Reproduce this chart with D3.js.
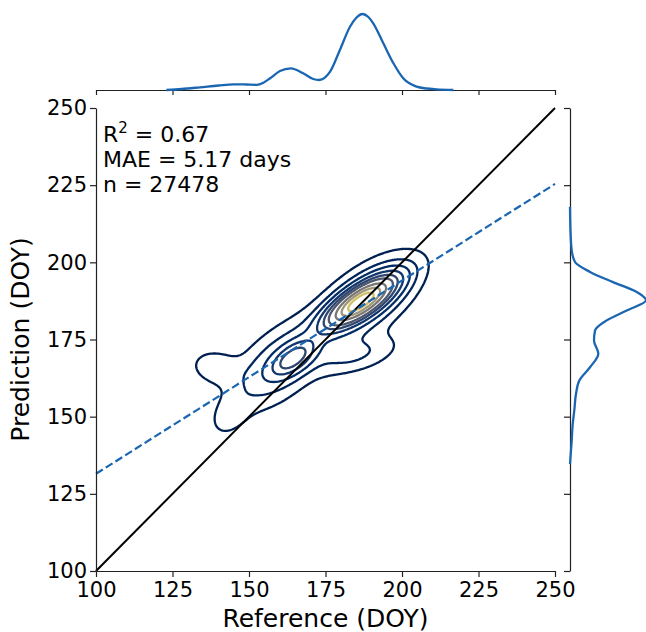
<!DOCTYPE html>
<html>
<head>
<meta charset="utf-8">
<script src="https://cdn.jsdelivr.net/npm/d3@7"></script>
<style>
  body { margin: 0; background: #fff; }
  text { font-family: "DejaVu Sans", sans-serif; fill: #000; }
</style>
</head>
<body>
<div id="chart"></div>
<script>
const FRAME_WIDTH = 646;
const FRAME_HEIGHT = 632;

// main axes box (pixels)
const MAIN = {left: 96, right: 555, top: 108, bottom: 571};

// axis ticks
const TICKS = [100, 125, 150, 175, 200, 225, 250];

// stats text
const STAT_LINES = ["MAE = 5.17 days", "n = 27478"];
const R2_VALUE = "0.67";

// 1:1 line and fitted regression line (endpoints in DOY)
const ONE_TO_ONE = [[100, 100], [250, 250]];
const REG_LINE = [[100, 131.5], [250, 225.4]];

// top marginal density (reference DOY), relative units
const topKdeX = [123, 128, 134, 140, 144.9, 149, 152.5, 154.7, 156.9, 160.1, 163.7, 167.7, 171, 172.9, 176.5, 179.7, 183, 185, 187.1, 189, 190.6, 193.9, 197.2, 200.4, 204.8, 208, 211.3, 216.8];
const topKdeD = [0, 1, 2.7, 4.5, 5.7, 5.5, 5.2, 7.3, 11.7, 19, 21.7, 16.7, 11, 10, 18.3, 40, 63.3, 72, 76, 73, 66.7, 46.7, 26.7, 11.7, 3.3, 1.5, 0.7, 0];

// right marginal density (prediction DOY), relative units
const rightKdeY = [134.6, 142.2, 147.6, 152, 157.4, 161.7, 166, 170.4, 174.7, 177.9, 181.2, 184.4, 187.7, 190.4, 193.6, 196.9, 200.1, 203.9, 210, 218];
const rightKdeD = [0, 1.7, 2.7, 4.3, 6, 9.3, 20, 28.3, 24, 25, 36.7, 56.7, 76, 66.7, 43, 20, 5, 1.7, 0.5, 0];

// joint density: gaussian blobs estimated from the contours
// (centre, spread along / across the blob axis, axis angle in degrees, weight)
const blobX      = [186.5, 188,   164.5, 160,  139,   143.5, 185];
const blobY      = [187.2, 187.5, 169,   167,  166,   150,   170];
const blobMajor  = [7.5,   12,    5,     12,   5,     5,     9];
const blobMinor  = [2.6,   5.5,   2.5,   6,    3.4,   3.5,   3.5];
const blobAngle  = [33,    37,    35,    40,   -10,   50,    15];
const blobWeight = [0.42,  0.20,  0.07,  0.14, 0.016, 0.010, 0.035];

const KDE_LEVELS = 10;
const KDE_THRESH = 0.05;

const BLUE = "#1a66b2";

const svg = d3.select("#chart")
  .append("svg")
    .attr("width", FRAME_WIDTH)
    .attr("height", FRAME_HEIGHT);

const x = d3.scaleLinear().domain([100, 250]).range([MAIN.left, MAIN.right]);
const y = d3.scaleLinear().domain([100, 250]).range([MAIN.bottom, MAIN.top]);

// marginal height scales
const topH = d3.scaleLinear().domain([0, 76]).range([90, 14]);
const rightW = d3.scaleLinear().domain([0, 76]).range([570, 646]);

// ---- joint density grid ----
const STEP = 0.5;
const nx = Math.round(150 / STEP) + 1;
const ny = Math.round(150 / STEP) + 1;
const values = new Float64Array(nx * ny);
const blobs = blobWeight.map((w, k) => {
  const t = blobAngle[k] * Math.PI / 180;
  return {cx: blobX[k], cy: blobY[k], c: Math.cos(t), s: Math.sin(t),
          a: blobMajor[k], b: blobMinor[k],
          norm: w / (2 * Math.PI * blobMajor[k] * blobMinor[k])};
});
for (let j = 0; j < ny; j++) {
  const vy = 100 + j * STEP;
  for (let i = 0; i < nx; i++) {
    const vx = 100 + i * STEP;
    let dens = 0;
    for (const g of blobs) {
      const dx = vx - g.cx, dy = vy - g.cy;
      const u = (dx * g.c + dy * g.s) / g.a;
      const v = (-dx * g.s + dy * g.c) / g.b;
      dens += g.norm * Math.exp(-(u * u + v * v) / 2);
    }
    values[j * nx + i] = dens;
  }
}

// iso-proportion levels like seaborn
const sorted = Array.from(values).sort((a, b) => b - a);
const total = d3.sum(sorted);
const cum = [];
let acc = 0;
for (const v of sorted) { acc += v; cum.push(acc / total); }
const props = d3.range(KDE_LEVELS).map(i => KDE_THRESH + i * (1 - KDE_THRESH) / (KDE_LEVELS - 1));
const levels = props.map(p => {
  const idx = d3.bisectLeft(cum, 1 - p);
  return sorted[Math.min(idx, sorted.length - 1)];
}).sort((a, b) => a - b);

const lvlColor = d3.scaleLinear().domain([levels[0], levels[levels.length - 1]]).range([0, 1]);

const gridPath = d3.geoPath(d3.geoTransform({
  point: function(px, py) {
    this.stream.point(x(100 + (px - 0.5) * STEP), y(100 + (py - 0.5) * STEP));
  }
}));

svg.append("clipPath").attr("id", "mainclip")
  .append("rect")
    .attr("x", MAIN.left).attr("y", MAIN.top - 20)
    .attr("width", MAIN.right - MAIN.left).attr("height", MAIN.bottom - MAIN.top + 20);

const contours = d3.contours().size([nx, ny]).thresholds(levels.slice(0, -1))(values);

svg.append("g")
    .attr("clip-path", "url(#mainclip)")
  .selectAll("path")
  .data(contours)
  .enter()
  .append("path")
    .attr("d", gridPath)
    .attr("fill", "none")
    .attr("stroke", d => d3.interpolateCividis(lvlColor(d.value)))
    .attr("stroke-width", 2.3)
    .attr("stroke-linejoin", "round");

// 1:1 line
const line = d3.line().x(d => x(d[0])).y(d => y(d[1]));
svg.append("path")
    .attr("d", line(ONE_TO_ONE))
    .attr("stroke", "#000")
    .attr("stroke-width", 2)
    .attr("fill", "none");

// regression
svg.append("path")
    .attr("d", line(REG_LINE))
    .attr("stroke", BLUE)
    .attr("stroke-width", 2.2)
    .attr("stroke-dasharray", "8,3.5")
    .attr("fill", "none");

// ---- axes ----
function styleAxis(g) {
  g.select(".domain").attr("stroke", "#222").attr("stroke-width", 1.2);
  g.selectAll(".tick line").attr("stroke", "#222").attr("stroke-width", 1.2);
  g.selectAll(".tick text").attr("font-size", "21px").attr("font-family", "DejaVu Sans").attr("fill", "#000");
}

svg.append("g")
    .attr("transform", "translate(0," + MAIN.bottom + ")")
    .call(d3.axisBottom(x).tickValues(TICKS).tickSize(6).tickSizeOuter(0).tickPadding(5))
    .call(styleAxis);

svg.append("g")
    .attr("transform", "translate(" + MAIN.left + ",0)")
    .call(d3.axisLeft(y).tickValues(TICKS).tickSize(6).tickSizeOuter(0).tickPadding(3))
    .call(styleAxis);

// marginal axes
svg.append("g")
    .attr("transform", "translate(0,90)")
    .call(d3.axisBottom(x).tickValues(TICKS).tickSize(5).tickSizeOuter(0).tickFormat(""))
    .call(styleAxis);

svg.append("g")
    .attr("transform", "translate(570,0)")
    .call(d3.axisLeft(y).tickValues(TICKS).tickSize(6).tickSizeOuter(0).tickFormat(""))
    .call(styleAxis);

// ---- marginal curves ----
svg.append("path")
    .datum(d3.zip(topKdeX, topKdeD))
    .attr("d", d3.line().x(d => x(d[0])).y(d => topH(d[1])).curve(d3.curveMonotoneX))
    .attr("fill", "none")
    .attr("stroke", BLUE)
    .attr("stroke-width", 2.3);

svg.append("path")
    .datum(d3.zip(rightKdeY, rightKdeD))
    .attr("d", d3.line().x(d => rightW(d[1])).y(d => y(d[0])).curve(d3.curveMonotoneY))
    .attr("fill", "none")
    .attr("stroke", BLUE)
    .attr("stroke-width", 2.3);

// ---- text ----
const r2 = svg.append("text")
    .attr("x", 103)
    .attr("y", 142)
    .attr("font-size", "22px");
r2.append("tspan").text("R");
r2.append("tspan").attr("dy", -9).attr("font-size", "15px").text("2");
r2.append("tspan").attr("dy", 9).text(" = " + R2_VALUE);

svg.selectAll(".stat")
  .data(STAT_LINES)
  .enter()
  .append("text")
    .attr("class", "stat")
    .attr("x", 103)
    .attr("y", (d, i) => 167 + i * 25)
    .attr("font-size", "22px")
    .text(d => d);

svg.append("text")
    .attr("x", (MAIN.left + MAIN.right) / 2)
    .attr("y", 627)
    .attr("text-anchor", "middle")
    .attr("font-size", "25px")
    .text("Reference (DOY)");

svg.append("text")
    .attr("transform", "translate(29," + ((MAIN.top + MAIN.bottom) / 2) + ") rotate(-90)")
    .attr("text-anchor", "middle")
    .attr("font-size", "25px")
    .text("Prediction (DOY)");
</script>
</body>
</html>
